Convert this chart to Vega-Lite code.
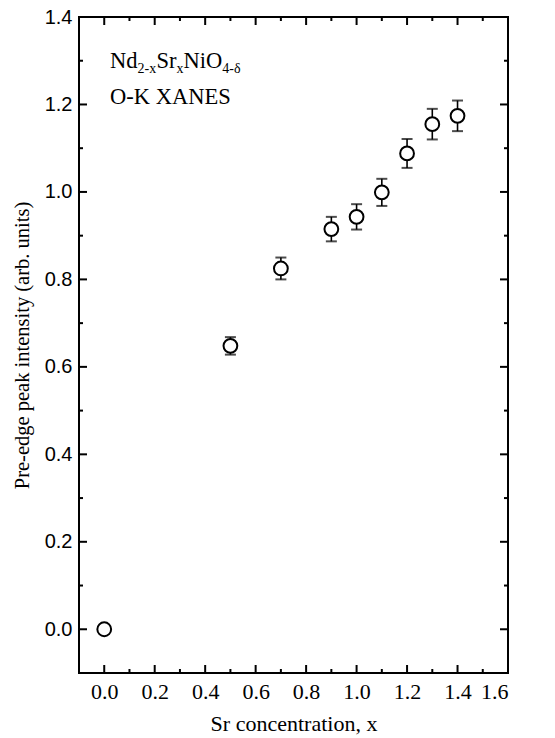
{
  "$schema": "https://vega.github.io/schema/vega-lite/v6.json",
  "width": 429,
  "height": 656,
  "autosize": {"type": "none"},
  "padding": {"left": 79, "top": 17, "right": 47, "bottom": 65},
  "background": "white",
  "config": {
    "view": {"stroke": "black", "strokeWidth": 2},
    "axis": {
      "domain": false,
      "ticks": false,
      "grid": false,
      "labelColor": "black",
      "titleColor": "black",
      "titleFontWeight": "normal",
      "labelOverlap": false
    }
  },
  "datasets": {
    "pts": [
      {"x": 0.0, "v": 0.0, "e": 0.0},
      {"x": 0.5, "v": 0.648, "e": 0.02},
      {"x": 0.7, "v": 0.825, "e": 0.025},
      {"x": 0.9, "v": 0.915, "e": 0.028},
      {"x": 1.0, "v": 0.943, "e": 0.029},
      {"x": 1.1, "v": 0.999, "e": 0.031},
      {"x": 1.2, "v": 1.088, "e": 0.033},
      {"x": 1.3, "v": 1.155, "e": 0.035},
      {"x": 1.4, "v": 1.174, "e": 0.035}
    ],
    "label": [
      {"x": 0.023, "y": 1.284, "t": "Nd", "sub": false},
      {"x": 0.132, "y": 1.272, "t": "2-x", "sub": true},
      {"x": 0.207, "y": 1.284, "t": "Sr", "sub": false},
      {"x": 0.286, "y": 1.272, "t": "x", "sub": true},
      {"x": 0.314, "y": 1.284, "t": "NiO", "sub": false},
      {"x": 0.468, "y": 1.272, "t": "4-δ", "sub": true},
      {"x": 0.023, "y": 1.2, "t": "O-K XANES", "sub": false}
    ],
    "xmaj": [{"t": 0}, {"t": 0.2}, {"t": 0.4}, {"t": 0.6}, {"t": 0.8}, {"t": 1.0}, {"t": 1.2}, {"t": 1.4}, {"t": 1.6}],
    "xmin": [{"t": 0.1}, {"t": 0.3}, {"t": 0.5}, {"t": 0.7}, {"t": 0.9}, {"t": 1.1}, {"t": 1.3}, {"t": 1.5}],
    "ymaj": [{"t": 0}, {"t": 0.2}, {"t": 0.4}, {"t": 0.6}, {"t": 0.8}, {"t": 1.0}, {"t": 1.2}, {"t": 1.4}],
    "ymin": [{"t": 0.1}, {"t": 0.3}, {"t": 0.5}, {"t": 0.7}, {"t": 0.9}, {"t": 1.1}, {"t": 1.3}]
  },
  "layer": [
    {
      "data": {"name": "pts"},
      "mark": {
        "type": "errorbar",
        "color": "black",
        "rule": {"strokeWidth": 1.6},
        "ticks": {"size": 11, "thickness": 2}
      },
      "encoding": {
        "x": {
          "field": "x", "type": "quantitative",
          "scale": {"domain": [-0.1, 1.6], "nice": false, "zero": false},
          "axis": {
            "orient": "bottom",
            "values": [0, 0.2, 0.4, 0.6, 0.8, 1.0, 1.2, 1.4, 1.6],
            "format": ".1f",
            "labelFont": "Liberation Serif",
            "labelFontSize": 22,
            "labelPadding": 8,
            "title": "Sr concentration, x",
            "titleFont": "Liberation Serif",
            "titleFontSize": 22,
            "titlePadding": 11
          }
        },
        "y": {
          "field": "v", "type": "quantitative",
          "scale": {"domain": [-0.1, 1.4], "nice": false, "zero": false},
          "axis": {
            "orient": "left",
            "values": [0, 0.2, 0.4, 0.6, 0.8, 1.0, 1.2, 1.4],
            "format": ".1f",
            "labelFont": "Liberation Sans",
            "labelFontSize": 20,
            "labelPadding": 7,
            "title": "Pre-edge peak intensity (arb. units)",
            "titleFont": "Liberation Serif",
            "titleFontSize": 20.5,
            "titlePadding": 12
          }
        },
        "yError": {"field": "e"}
      }
    },
    {
      "data": {"name": "pts"},
      "mark": {"type": "point", "shape": "circle", "filled": true, "fill": "white", "stroke": "black", "strokeWidth": 2, "size": 190, "opacity": 1},
      "encoding": {
        "x": {"field": "x", "type": "quantitative"},
        "y": {"field": "v", "type": "quantitative"}
      }
    },
    {
      "data": {"name": "label"},
      "transform": [{"filter": "!datum.sub"}],
      "mark": {"type": "text", "align": "left", "baseline": "alphabetic", "font": "Liberation Serif", "fontSize": 22.5, "color": "black"},
      "encoding": {
        "x": {"field": "x", "type": "quantitative"},
        "y": {"field": "y", "type": "quantitative"},
        "text": {"field": "t"}
      }
    },
    {
      "data": {"name": "label"},
      "transform": [{"filter": "datum.sub"}],
      "mark": {"type": "text", "align": "left", "baseline": "alphabetic", "font": "Liberation Serif", "fontSize": 14, "color": "black"},
      "encoding": {
        "x": {"field": "x", "type": "quantitative"},
        "y": {"field": "y", "type": "quantitative"},
        "text": {"field": "t"}
      }
    },
    {
      "data": {"name": "xmaj"},
      "mark": {"type": "tick", "orient": "vertical", "size": 16, "thickness": 2, "color": "black", "opacity": 1, "clip": true},
      "encoding": {"x": {"field": "t", "type": "quantitative"}, "y": {"datum": -0.1}}
    },
    {
      "data": {"name": "xmaj"},
      "mark": {"type": "tick", "orient": "vertical", "size": 16, "thickness": 2, "color": "black", "opacity": 1, "clip": true},
      "encoding": {"x": {"field": "t", "type": "quantitative"}, "y": {"datum": 1.4}}
    },
    {
      "data": {"name": "xmin"},
      "mark": {"type": "tick", "orient": "vertical", "size": 8, "thickness": 2, "color": "black", "opacity": 1, "clip": true},
      "encoding": {"x": {"field": "t", "type": "quantitative"}, "y": {"datum": -0.1}}
    },
    {
      "data": {"name": "xmin"},
      "mark": {"type": "tick", "orient": "vertical", "size": 8, "thickness": 2, "color": "black", "opacity": 1, "clip": true},
      "encoding": {"x": {"field": "t", "type": "quantitative"}, "y": {"datum": 1.4}}
    },
    {
      "data": {"name": "ymaj"},
      "mark": {"type": "tick", "orient": "horizontal", "size": 16, "thickness": 2, "color": "black", "opacity": 1, "clip": true},
      "encoding": {"y": {"field": "t", "type": "quantitative"}, "x": {"datum": -0.1}}
    },
    {
      "data": {"name": "ymaj"},
      "mark": {"type": "tick", "orient": "horizontal", "size": 16, "thickness": 2, "color": "black", "opacity": 1, "clip": true},
      "encoding": {"y": {"field": "t", "type": "quantitative"}, "x": {"datum": 1.6}}
    },
    {
      "data": {"name": "ymin"},
      "mark": {"type": "tick", "orient": "horizontal", "size": 8, "thickness": 2, "color": "black", "opacity": 1, "clip": true},
      "encoding": {"y": {"field": "t", "type": "quantitative"}, "x": {"datum": -0.1}}
    },
    {
      "data": {"name": "ymin"},
      "mark": {"type": "tick", "orient": "horizontal", "size": 8, "thickness": 2, "color": "black", "opacity": 1, "clip": true},
      "encoding": {"y": {"field": "t", "type": "quantitative"}, "x": {"datum": 1.6}}
    }
  ]
}
